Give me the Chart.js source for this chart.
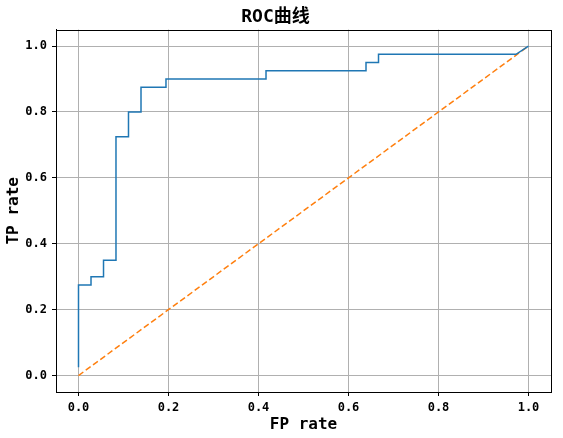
<!DOCTYPE html>
<html>
<head>
<meta charset="utf-8">
<script src="https://cdn.jsdelivr.net/npm/chart.js@4/dist/chart.umd.min.js"></script>
<style>
html,body{margin:0;padding:0;background:#fff;}
#wrap{width:563px;height:438px;}
</style>
</head>
<body>
<div id="wrap"><canvas id="c" width="563" height="438"></canvas></div>
<script>
const fpr = [0, 0, 0.0278, 0.0278, 0.0556, 0.0556, 0.0833, 0.0833, 0.1111, 0.1111, 0.1389, 0.1389, 0.1944, 0.1944, 0.4167, 0.4167, 0.6389, 0.6389, 0.6667, 0.6667, 0.9722, 1.0];
const tpr = [0.025, 0.275, 0.275, 0.3, 0.3, 0.35, 0.35, 0.725, 0.725, 0.8, 0.8, 0.875, 0.875, 0.9, 0.9, 0.925, 0.925, 0.95, 0.95, 0.975, 0.975, 1.0];
const diagX = [0, 1];
const diagY = [0, 1];
const xTicks = [0, 0.2, 0.4, 0.6, 0.8, 1.0];
const yTicks = [0, 0.2, 0.4, 0.6, 0.8, 1.0];
const titleText = 'ROC曲线';
const xLabel = 'FP rate';
const yLabel = 'TP rate';

const monoFont = '"DejaVu Sans Mono", "Noto Sans CJK SC", monospace';

const framePlugin = {
  id: 'frame',
  afterDraw(chart) {
    const a = chart.chartArea, ctx = chart.ctx;
    ctx.save();
    ctx.strokeStyle = '#000';
    ctx.lineWidth = 1;
    ctx.strokeRect(Math.round(a.left) + 0.5, Math.round(a.top) + 0.5, Math.round(a.right - a.left), Math.round(a.bottom - a.top));
    ctx.restore();
  }
};

new Chart(document.getElementById('c'), {
  type: 'scatter',
  data: {
    datasets: [
      {
        data: fpr.map((x, i) => ({x: x, y: tpr[i]})),
        showLine: true,
        borderColor: '#1f77b4',
        backgroundColor: '#1f77b4',
        borderWidth: 1.5,
        pointRadius: 0,
        tension: 0
      },
      {
        data: diagX.map((x, i) => ({x: x, y: diagY[i]})),
        showLine: true,
        borderColor: '#ff7f0e',
        backgroundColor: '#ff7f0e',
        borderWidth: 1.5,
        borderDash: [6, 3],
        pointRadius: 0,
        tension: 0
      }
    ]
  },
  options: {
    responsive: false,
    animation: false,
    devicePixelRatio: 1,
    layout: {padding: {left: 0, right: 12, top: 0, bottom: 0}},
    plugins: {
      legend: {display: false},
      tooltip: {enabled: false},
      title: {
        display: true,
        text: titleText,
        color: '#000',
        font: {family: monoFont, size: 18, weight: 'bold'},
        padding: {top: 7, bottom: 1}
      }
    },
    scales: {
      x: {
        type: 'linear',
        min: -0.05,
        max: 1.05,
        afterBuildTicks(scale) { scale.ticks = xTicks.map(v => ({value: v})); },
        afterFit(scale) { scale.height = 46; },
        ticks: {
          color: '#000',
          font: {family: monoFont, size: 12, weight: 'bold'},
          padding: 5,
          maxRotation: 0,
          callback: v => Number(v).toFixed(1)
        },
        grid: {color: '#b0b0b0', lineWidth: 1, tickLength: 4, tickColor: '#000', drawTicks: true},
        border: {display: true, color: '#000'},
        title: {
          display: true,
          text: xLabel,
          color: '#000',
          font: {family: monoFont, size: 16, weight: 'bold'},
          padding: {top: 0, bottom: 4}
        }
      },
      y: {
        type: 'linear',
        min: -0.05,
        max: 1.05,
        afterBuildTicks(scale) { scale.ticks = yTicks.map(v => ({value: v})); },
        afterFit(scale) { scale.width = 56; },
        ticks: {
          color: '#000',
          font: {family: monoFont, size: 12, weight: 'bold'},
          padding: 5,
          callback: v => Number(v).toFixed(1)
        },
        grid: {color: '#b0b0b0', lineWidth: 1, tickLength: 4, tickColor: '#000', drawTicks: true},
        border: {display: true, color: '#000'},
        title: {
          display: true,
          text: yLabel,
          color: '#000',
          font: {family: monoFont, size: 16, weight: 'bold'},
          padding: {top: 4, bottom: 0}
        }
      }
    }
  },
  plugins: [framePlugin]
});
</script>
</body>
</html>
